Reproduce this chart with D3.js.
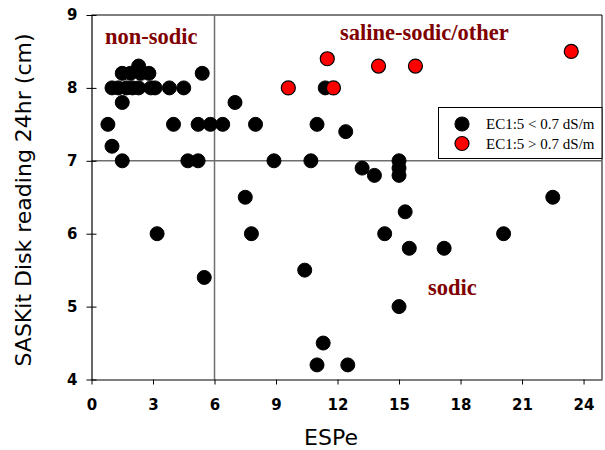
<!DOCTYPE html>
<html>
<head>
<meta charset="utf-8">
<script src="https://cdn.jsdelivr.net/npm/d3@7"></script>
<style>
  html, body { margin: 0; padding: 0; background: #fff; }
  svg { display: block; }
</style>
</head>
<body>
<svg id="chart" width="605" height="450"></svg>
<script>
// ---- data ----
const blackX = [2.3, 1.5, 1.9, 2.4, 2.8, 5.4,
                1.0, 1.3, 1.7, 2.0, 2.3, 2.9, 3.1, 3.8, 4.5, 11.4,
                1.5, 7.0,
                0.8, 4.0, 5.2, 5.8, 6.4, 8.0, 11.0,
                12.4, 1.0,
                1.5, 4.7, 5.2, 8.9, 10.7, 15.0,
                13.2, 15.0, 13.8, 15.0,
                7.5, 22.5, 15.3,
                3.2, 7.8, 14.3, 20.1,
                15.5, 17.2, 10.4, 5.5, 15.0, 11.3, 11.0, 12.5];
const blackY = [8.3, 8.2, 8.2, 8.2, 8.2, 8.2,
                8.0, 8.0, 8.0, 8.0, 8.0, 8.0, 8.0, 8.0, 8.0, 8.0,
                7.8, 7.8,
                7.5, 7.5, 7.5, 7.5, 7.5, 7.5, 7.5,
                7.4, 7.2,
                7.0, 7.0, 7.0, 7.0, 7.0, 7.0,
                6.9, 6.9, 6.8, 6.8,
                6.5, 6.5, 6.3,
                6.0, 6.0, 6.0, 6.0,
                5.8, 5.8, 5.5, 5.4, 5.0, 4.5, 4.2, 4.2];
const redX = [9.6, 11.5, 11.8, 14.0, 15.8, 23.4];
const redY = [8.0, 8.4, 8.0, 8.3, 8.3, 8.5];
const xTicks = [0, 3, 6, 9, 12, 15, 18, 21, 24];
const yTicks = [4, 5, 6, 7, 8, 9];
const legendLabels = ["EC1:5 < 0.7 dS/m", "EC1:5 > 0.7 dS/m"];
const zoneLabels = ["non-sodic", "saline-sodic/other", "sodic"];

// ---- layout ----
const svg = d3.select("#chart");
const x = d3.scaleLinear().domain([0, 24.9]).range([91.5, 602]);
const y = d3.scaleLinear().domain([4, 9]).range([379.5, 15]);
const sansFont = "'DejaVu Sans', Verdana, sans-serif";
const serifFont = "'Liberation Serif', 'Times New Roman', serif";

// frame (top/right)
svg.append("path")
  .attr("d", `M${x(0)},${y(9)}H${x.range()[1]}V${y(4)}`)
  .attr("fill", "none").attr("stroke", "#000").attr("stroke-width", 1);

// reference lines
svg.append("line")
  .attr("x1", x(6)).attr("x2", x(6)).attr("y1", y(9)).attr("y2", y(4))
  .attr("stroke", "#6e6e6e").attr("stroke-width", 1.5);
svg.append("line")
  .attr("x1", x(0)).attr("x2", x.range()[1]).attr("y1", y(7)).attr("y2", y(7))
  .attr("stroke", "#6e6e6e").attr("stroke-width", 1.5);

// axes
const xAxis = svg.append("g")
  .attr("transform", `translate(0,${y(4)})`)
  .call(d3.axisBottom(x).tickValues(xTicks).tickFormat(d3.format("d"))
        .tickSize(5).tickSizeOuter(0).tickPadding(15));
const yAxis = svg.append("g")
  .attr("transform", `translate(${x(0)},0)`)
  .call(d3.axisLeft(y).tickValues(yTicks).tickFormat(d3.format("d"))
        .tickSize(5).tickSizeOuter(0).tickPadding(9));
yAxis.selectAll(".tick line").attr("x1", 5);
[xAxis, yAxis].forEach(g => {
  g.select(".domain").attr("stroke", "#000").attr("stroke-width", 1.2);
  g.selectAll(".tick line").attr("stroke", "#000").attr("stroke-width", 1);
  g.selectAll(".tick text")
    .attr("font-family", sansFont).attr("font-weight", "bold")
    .attr("font-size", 15).attr("fill", "#000");
});

// axis titles
svg.append("text")
  .attr("x", 331).attr("y", 445)
  .attr("text-anchor", "middle")
  .attr("font-family", sansFont).attr("font-size", 22)
  .text("ESPe");
svg.append("text")
  .attr("transform", "translate(31,200) rotate(-90)")
  .attr("text-anchor", "middle")
  .attr("font-family", sansFont).attr("font-size", 22)
  .text("SASKit Disk reading 24hr (cm)");

// zone labels
const zonePos = [[105, 44], [340, 40], [428, 295]];
svg.selectAll("text.zone").data(zoneLabels).enter().append("text")
  .attr("class", "zone")
  .attr("x", (d, i) => zonePos[i][0]).attr("y", (d, i) => zonePos[i][1])
  .attr("font-family", serifFont).attr("font-weight", "bold")
  .attr("font-size", 22.5).attr("fill", "#800000")
  .text(d => d);

// points
const r = 7;
svg.append("g").selectAll("circle").data(blackX.map((v, i) => [v, blackY[i]])).enter()
  .append("circle")
  .attr("cx", d => x(d[0])).attr("cy", d => y(d[1])).attr("r", r)
  .attr("fill", "#000").attr("stroke", "#000").attr("stroke-width", 1);
svg.append("g").selectAll("circle").data(redX.map((v, i) => [v, redY[i]])).enter()
  .append("circle")
  .attr("cx", d => x(d[0])).attr("cy", d => y(d[1])).attr("r", r)
  .attr("fill", "#ff0000").attr("stroke", "#000").attr("stroke-width", 1.2);

// legend
const lg = svg.append("g");
lg.append("rect")
  .attr("x", 438.5).attr("y", 107.5).attr("width", x.range()[1] - 438.5).attr("height", 51)
  .attr("fill", "#fff").attr("stroke", "#000").attr("stroke-width", 1);
const legendFill = ["#000", "#ff0000"];
legendLabels.forEach((t, i) => {
  lg.append("circle")
    .attr("cx", 462).attr("cy", 124 + i * 19.5).attr("r", r)
    .attr("fill", legendFill[i]).attr("stroke", "#000").attr("stroke-width", 1.2);
  lg.append("text")
    .attr("x", 486).attr("y", 129 + i * 19.5)
    .attr("font-family", serifFont).attr("font-size", 15)
    .text(t);
});
</script>
</body>
</html>
